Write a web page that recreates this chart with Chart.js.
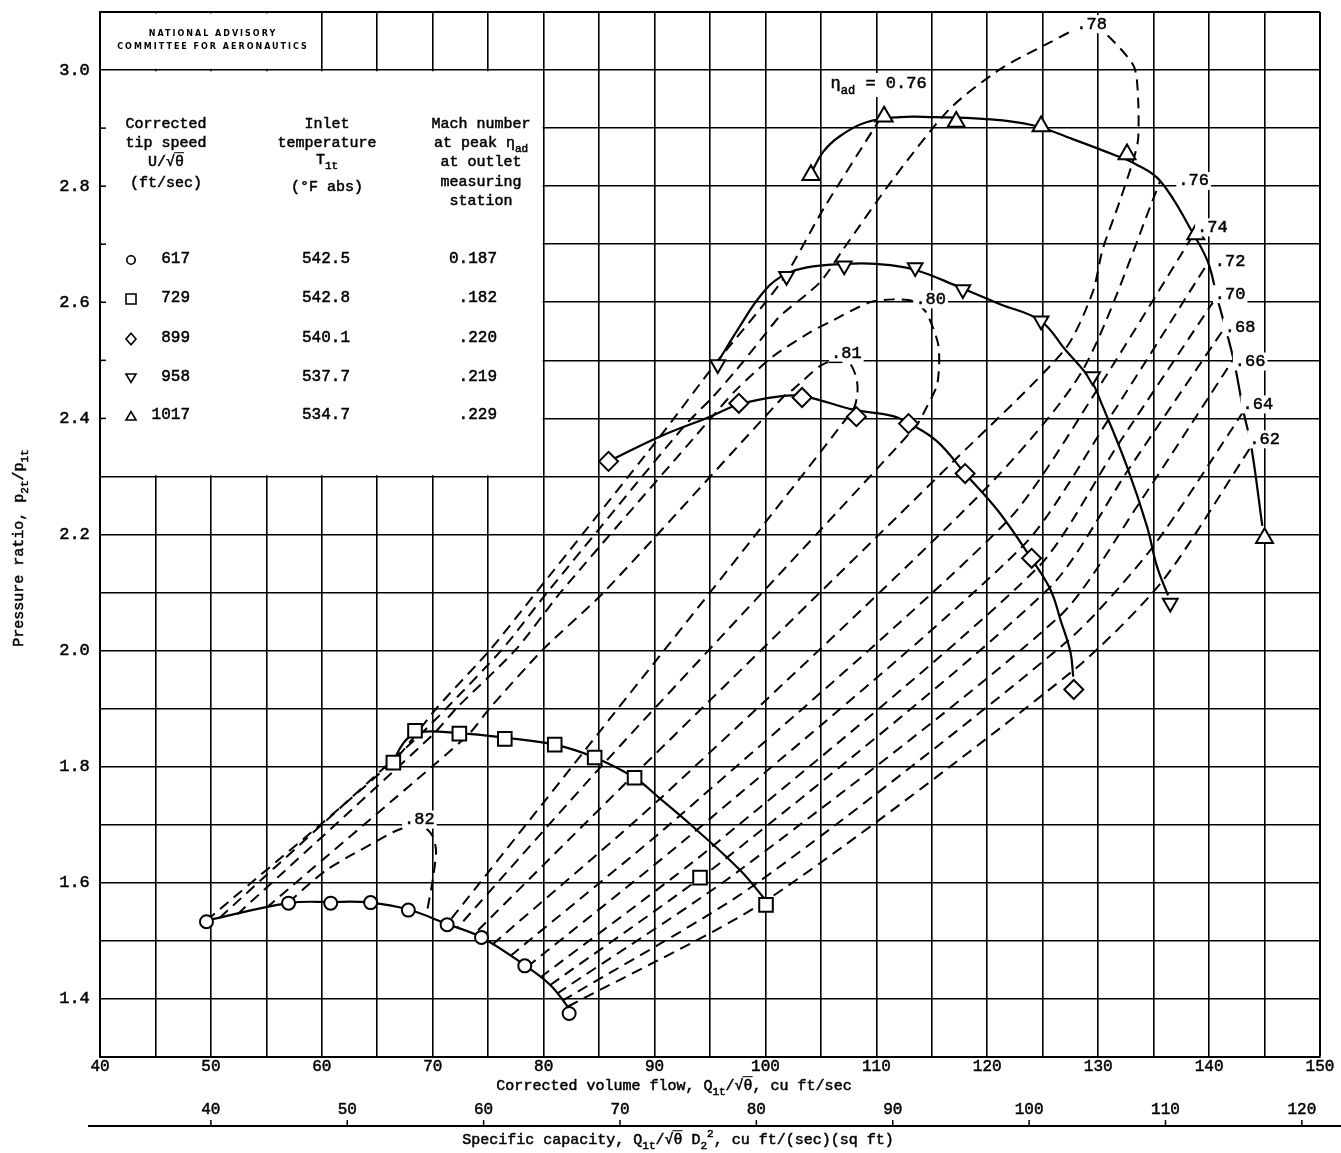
<!DOCTYPE html>
<html>
<head>
<meta charset="utf-8">
<script src="https://cdn.jsdelivr.net/npm/chart.js@4/dist/chart.umd.min.js"></script>
<style>
  html, body { margin: 0; padding: 0; background: #fff; }
  #wrap { width: 1341px; height: 1153px; }
</style>
</head>
<body>
<div id="wrap"><canvas id="c" width="1341" height="1153"></canvas></div>
<script>
// ---- Compressor test points: [corrected volume flow Q1t/sqrt(theta), pressure ratio p2t/p1t] ----
const tipSpeeds   = ['617', '729', '899', '958', '1017'];
const inletTemps  = ['542.5', '542.8', '540.1', '537.7', '534.7'];
const machNumbers = ['0.187', '.182', '.220', '.219', '.229'];

const points617  = [[49.6,1.533],[57.0,1.565],[60.8,1.565],[64.4,1.566],[67.8,1.553],[71.3,1.528],[74.4,1.506],[78.3,1.457],[82.3,1.375]];
const points729  = [[66.45,1.807],[68.4,1.862],[72.4,1.857],[76.5,1.848],[81.0,1.838],[84.6,1.816],[88.2,1.781],[94.1,1.609],[100.05,1.562]];
const points899  = [[85.85,2.326],[97.6,2.426],[103.3,2.436],[108.2,2.403],[112.9,2.391],[118.0,2.305],[124.0,2.159],[127.8,1.933]];
const points958  = [[95.7,2.493],[101.9,2.645],[107.1,2.663],[113.5,2.660],[117.8,2.622],[124.85,2.568],[129.5,2.472],[136.5,2.082]];
const points1017 = [[104.1,2.819],[110.7,2.920],[117.2,2.911],[124.85,2.903],[132.6,2.855],[138.8,2.717],[145.0,2.194]];

// ---- Faired speed lines ----
const faired617  = [[49.6,1.535],[57.0,1.565],[60.8,1.567],[64.4,1.566],[67.8,1.554],[71.3,1.529],[74.4,1.506],[78.3,1.458],[80.6,1.424],[82.2,1.386]];
const faired729  = [[66.45,1.807],[67.0,1.830],[67.8,1.850],[68.8,1.860],[72.4,1.858],[76.5,1.850],[81.0,1.838],[84.6,1.816],[88.2,1.781],[90.5,1.745],[93.8,1.691],[97.7,1.622],[99.9,1.573]];
const faired899  = [[85.85,2.326],[90.5,2.369],[95.0,2.403],[97.6,2.424],[101.3,2.438],[103.5,2.438],[107.9,2.415],[111.5,2.404],[113.0,2.391],[115.5,2.360],[118.0,2.305],[121.0,2.240],[123.95,2.159],[125.7,2.105],[126.6,2.053],[127.5,1.997],[127.75,1.955]];
const faired958  = [[95.7,2.497],[97.7,2.559],[99.5,2.610],[101.3,2.643],[103.75,2.660],[107.0,2.666],[110.0,2.666],[113.3,2.657],[117.5,2.626],[121.1,2.597],[124.8,2.568],[127.0,2.519],[129.3,2.467],[130.4,2.421],[132.6,2.317],[134.4,2.214],[135.3,2.145],[136.3,2.095]];
const faired1017 = [[104.1,2.822],[105.2,2.859],[106.7,2.886],[109.1,2.910],[112.1,2.919],[115.1,2.919],[119.6,2.916],[124.1,2.905],[127.7,2.881],[131.7,2.852],[133.2,2.840],[135.6,2.809],[138.6,2.717],[139.9,2.669],[140.7,2.610],[142.2,2.502],[143.1,2.412],[143.8,2.352],[144.8,2.215]];

// ---- Lines of constant adiabatic efficiency ----
const eff62 = [[82.2,1.387],[100.1,1.570],[127.7,1.965],[135.8,2.120],[143.8,2.352]];
const eff64 = [[81.7,1.397],[98.9,1.595],[127.2,2.016],[134.9,2.178],[143.1,2.412]];
const eff66 = [[81.2,1.409],[97.7,1.622],[126.5,2.059],[133.7,2.254],[142.2,2.502]];
const eff68 = [[80.6,1.424],[96.5,1.643],[125.6,2.108],[132.7,2.311],[141.4,2.556]];
const eff70 = [[79.7,1.437],[95.3,1.664],[124.5,2.142],[131.8,2.355],[140.7,2.610]];
const eff72 = [[78.5,1.455],[93.8,1.691],[123.2,2.180],[130.9,2.397],[139.9,2.668]];
const eff74 = [[77.0,1.474],[92.3,1.716],[121.7,2.221],[129.8,2.446],[138.6,2.717]];
const eff76High = [[75.4,1.494],[90.5,1.745],[119.5,2.272],[128.6,2.483],[135.6,2.809]];
const eff76Low  = [[49.6,1.535],[66.45,1.810],[70.4,1.902],[75.2,2.002],[79.4,2.102],[90.5,2.369],[95.6,2.497],[101.6,2.640],[105.2,2.760],[110.4,2.918]];
const eff78 = [[50.8,1.540],[68.85,1.855],[71.3,1.902],[76.25,2.002],[80.4,2.102],[92.6,2.385],[95.3,2.438],[97.4,2.484],[100.1,2.548],[101.3,2.576],[104.9,2.634],[107.0,2.691],[111.5,2.812],[116.6,2.933],[121.2,3.002],[125.7,3.048],[128.8,3.076],[130.4,3.067],[133.2,3.007],[133.6,2.950],[133.6,2.881],[133.2,2.847],[131.8,2.766],[130.4,2.691],[129.5,2.617],[127.0,2.519],[117.0,2.327],[88.0,1.783],[73.7,1.511]];
const eff80 = [[52.4,1.546],[70.0,1.855],[72.2,1.902],[77.5,2.002],[81.6,2.102],[95.3,2.405],[97.4,2.450],[100.7,2.507],[104.0,2.548],[105.8,2.566],[109.4,2.600],[111.5,2.605],[113.3,2.602],[114.5,2.582],[115.6,2.525],[115.5,2.460],[114.5,2.418],[113.5,2.385],[85.5,1.807],[72.2,1.522]];
const eff81 = [[55.0,1.557],[70.35,1.807],[73.3,1.857],[75.2,1.902],[79.95,2.002],[85.5,2.102],[101.8,2.441],[102.5,2.450],[104.9,2.490],[106.5,2.502],[107.6,2.495],[108.2,2.470],[108.3,2.445],[107.9,2.415],[83.5,1.823],[71.3,1.529]];
const eff82 = [[57.0,1.566],[58.5,1.592],[60.4,1.622],[62.4,1.645],[64.6,1.668],[66.5,1.688],[68.0,1.698],[69.2,1.697],[70.0,1.680],[70.3,1.655],[70.0,1.605],[69.5,1.552]];

// ---- Axis ranges and ticks ----
const flowRange     = [40, 150];
const ratioRange    = [1.3, 3.1];
const capacityRange = [31.87, 121.33];
const flowLabels     = [40, 50, 60, 70, 80, 90, 100, 110, 120, 130, 140, 150];
const ratioLabels    = [1.4, 1.6, 1.8, 2.0, 2.2, 2.4, 2.6, 2.8, 3.0];
const capacityLabels = [40, 50, 60, 70, 80, 90, 100, 110, 120];

// ---- Efficiency labels: [text, flow, ratio] ----
const effLabels = [
  ['.78', 129.4, 3.079], ['.80', 114.9, 2.605], ['.81', 107.3, 2.512], ['.82', 68.8, 1.709],
  ['.76', 138.6, 2.809], ['.74', 140.3, 2.729], ['.72', 141.9, 2.671], ['.70', 141.9, 2.614],
  ['.68', 142.8, 2.557], ['.66', 143.7, 2.498], ['.64', 144.4, 2.424], ['.62', 145.0, 2.364]
];

const MONO = "'Liberation Mono', 'DejaVu Sans Mono', monospace";
const INK = '#000';

const xy = arr => arr.map(([x, y]) => ({ x, y }));

function effLine(data) {
  return { data: xy(data), showLine: true, pointRadius: 0, borderColor: INK, borderWidth: 2,
           borderDash: [11, 7], tension: 0.25, fill: false, order: 3 };
}
function fairLine(data) {
  return { data: xy(data), showLine: true, pointRadius: 0, borderColor: INK, borderWidth: 2.2,
           tension: 0.4, fill: false, order: 2 };
}
function marks(data, style, r, rot) {
  return { data: xy(data), showLine: false, pointStyle: style, pointRadius: r, pointRotation: rot || 0,
           pointBackgroundColor: '#fff', pointBorderColor: INK, pointBorderWidth: 2, order: 1 };
}

// rich text: segments [text, kind] where kind is '', 'sub', 'sup' or 'over'
function richWidth(ctx, segs, size) {
  let w = 0;
  for (const [t, k] of segs) {
    const s = (k === 'sub' || k === 'sup') ? Math.round(size * 0.72) : size;
    ctx.font = s + 'px ' + MONO;
    w += ctx.measureText(t).width;
  }
  return w;
}
function drawRich(ctx, segs, x, y, size, align) {
  const w = richWidth(ctx, segs, size);
  let cx = align === 'center' ? x - w / 2 : align === 'right' ? x - w : x;
  ctx.textBaseline = 'middle';
  ctx.textAlign = 'left';
  for (const [t, k] of segs) {
    const s = (k === 'sub' || k === 'sup') ? Math.round(size * 0.72) : size;
    ctx.font = s + 'px ' + MONO;
    const tw = ctx.measureText(t).width;
    const dy = k === 'sub' ? size * 0.38 : k === 'sup' ? -size * 0.42 : 0;
    ctx.lineWidth = 0.5;
    ctx.fillText(t, cx, y + dy);
    ctx.strokeText(t, cx, y + dy);
    if (k === 'over') {
      ctx.lineWidth = 1;
      ctx.beginPath();
      ctx.moveTo(cx - 1, y - size * 0.62);
      ctx.lineTo(cx + tw, y - size * 0.62);
      ctx.stroke();
    }
    cx += tw;
  }
}

function drawMark(ctx, style, x, y, r) {
  ctx.beginPath();
  if (style === 'circle') {
    ctx.arc(x, y, r, 0, Math.PI * 2);
  } else if (style === 'rect') {
    ctx.rect(x - r, y - r, 2 * r, 2 * r);
  } else if (style === 'diamond') {
    ctx.moveTo(x, y - r * 1.15); ctx.lineTo(x + r, y); ctx.lineTo(x, y + r * 1.15); ctx.lineTo(x - r, y); ctx.closePath();
  } else if (style === 'down') {
    ctx.moveTo(x - r, y - r * 0.8); ctx.lineTo(x + r, y - r * 0.8); ctx.lineTo(x, y + r * 0.9); ctx.closePath();
  } else {
    ctx.moveTo(x - r, y + r * 0.8); ctx.lineTo(x + r, y + r * 0.8); ctx.lineTo(x, y - r * 0.9); ctx.closePath();
  }
  ctx.fillStyle = '#fff'; ctx.fill();
  ctx.strokeStyle = INK; ctx.lineWidth = 1.6; ctx.stroke();
}

const legendMarks = ['circle', 'rect', 'diamond', 'down', 'up'];

const paperPlugin = {
  id: 'paper',
  beforeDatasetsDraw(chart) {
    const { ctx, scales: { x, y } } = chart;
    const L = x.getPixelForValue(40), R = x.getPixelForValue(80), R2 = x.getPixelForValue(60);
    const T = y.getPixelForValue(3.0), B = y.getPixelForValue(2.3), TT = y.getPixelForValue(3.1);
    ctx.save();
    ctx.fillStyle = '#fff';
    ctx.fillRect(L + 1.5, T + 1.2, R - L - 2.5, B - T - 2.4);
    ctx.fillRect(L + 1.5, TT + 1.5, R2 - L - 2.5, T - TT - 2.7);
    ctx.strokeStyle = INK; ctx.lineWidth = 1.5;
    for (let i = 24; i <= 29; i++) {
      const yy = y.getPixelForValue(i / 10);
      ctx.beginPath(); ctx.moveTo(L, yy); ctx.lineTo(L + 6, yy); ctx.stroke();
    }
    ctx.restore();
  },
  afterDatasetsDraw(chart) {
    const { ctx, scales: { x, y } } = chart;
    ctx.save();
    ctx.fillStyle = INK; ctx.strokeStyle = INK;
    const size = 17;
    for (const [t, q, p] of effLabels) {
      const px = x.getPixelForValue(q), py = y.getPixelForValue(p);
      ctx.font = size + 'px ' + MONO;
      const w = ctx.measureText(t).width;
      ctx.fillStyle = '#fff';
      ctx.fillRect(px - w / 2 - 2, py - 9, w + 4, 18);
      ctx.fillStyle = INK;
      drawRich(ctx, [[t, '']], px, py, size, 'center');
    }
    // underline of .81
    {
      const px = x.getPixelForValue(107.3), py = y.getPixelForValue(2.512);
      ctx.lineWidth = 1.5; ctx.beginPath(); ctx.moveTo(px - 18, py + 9); ctx.lineTo(px - 4, py + 9); ctx.stroke();
    }
    // eta_ad = 0.76 label
    {
      const segs = [['\u03b7', ''], ['ad', 'sub'], [' = 0.76', '']];
      const px = x.getPixelForValue(110.2), py = y.getPixelForValue(2.976);
      const w = richWidth(ctx, segs, 17);
      ctx.fillStyle = '#fff'; ctx.fillRect(px - w / 2 - 3, py - 11, w + 6, 24);
      ctx.fillStyle = INK; drawRich(ctx, segs, px, py, 17, 'center');
    }
    ctx.restore();
  },
  afterDraw(chart) {
    const { ctx, scales: { x2 } } = chart;
    ctx.save();
    ctx.fillStyle = INK; ctx.strokeStyle = INK;

    // committee stamp
    ctx.font = 'bold 8px "DejaVu Sans", sans-serif';
    ctx.textAlign = 'center'; ctx.textBaseline = 'middle';
    try { ctx.letterSpacing = '2px'; } catch (e) {}
    ctx.fillText('NATIONAL ADVISORY', 213, 34);
    ctx.fillText('COMMITTEE FOR AERONAUTICS', 213, 47);
    try { ctx.letterSpacing = '0px'; } catch (e) {}

    // key table
    const fs = 15;
    const head1 = [[['Corrected', '']], [['tip speed', '']], [['U/\u221a', ''], ['\u03b8', 'over']], [['(ft/sec)', '']]];
    const head2 = [[['Inlet', '']], [['temperature', '']], [['T', ''], ['1t', 'sub']], [['(\u00b0F abs)', '']]];
    const head3 = [[['Mach number', '']], [['at peak \u03b7', ''], ['ad', 'sub']], [['at outlet', '']], [['measuring', '']], [['station', '']]];
    const h1y = [124, 143, 162, 183], h2y = [124, 143, 160, 187], h3y = [124, 143, 162, 182, 201];
    head1.forEach((s, i) => drawRich(ctx, s, 166, h1y[i], fs, 'center'));
    head2.forEach((s, i) => drawRich(ctx, s, 327, h2y[i], fs, 'center'));
    head3.forEach((s, i) => drawRich(ctx, s, 481, h3y[i], fs, 'center'));
    const rowY = [259, 298, 338, 377, 415];
    for (let i = 0; i < tipSpeeds.length; i++) {
      ctx.fillStyle = INK; ctx.strokeStyle = INK;
      drawRich(ctx, [[tipSpeeds[i], '']], 190, rowY[i], 16, 'right');
      drawRich(ctx, [[inletTemps[i], '']], 326, rowY[i], 16, 'center');
      drawRich(ctx, [[machNumbers[i], '']], 497, rowY[i], 16, 'right');
      const st = legendMarks[i];
      drawMark(ctx, st, 131, rowY[i] + 1, st === 'circle' ? 4.2 : 5);
    }

    // axis titles
    ctx.fillStyle = INK; ctx.strokeStyle = INK;
    drawRich(ctx, [['Corrected volume flow, Q', ''], ['1t', 'sub'], ['/\u221a', ''], ['\u03b8', 'over'], [', cu ft/sec', '']],
             674, 1086, 15, 'center');
    drawRich(ctx, [['Specific capacity, Q', ''], ['1t', 'sub'], ['/\u221a', ''], ['\u03b8', 'over'], [' D', ''], ['2', 'sub'], ['2', 'sup'], [', cu ft/(sec)(sq ft)', '']],
             678, 1140, 15, 'center');
    ctx.save();
    ctx.translate(19, 548);
    ctx.rotate(-Math.PI / 2);
    drawRich(ctx, [['Pressure ratio, p', ''], ['2t', 'sub'], ['/p', ''], ['1t', 'sub']], 0, 0, 15, 'center');
    ctx.restore();

    // specific-capacity scale line with ticks
    const ly = 1126;
    ctx.lineWidth = 2;
    ctx.beginPath(); ctx.moveTo(88, ly); ctx.lineTo(1341, ly); ctx.stroke();
    ctx.lineWidth = 1.5;
    for (const v of capacityLabels) {
      const px = x2.getPixelForValue(v);
      ctx.beginPath(); ctx.moveTo(px, ly); ctx.lineTo(px, ly - 6); ctx.stroke();
    }
    ctx.restore();
  }
};

const gridWidth = c => (c.tick && (Math.abs(c.tick.value - flowRange[1]) < 1e-6 || Math.abs(c.tick.value - ratioRange[1]) < 1e-6)) ? 2 : 1.6;

new Chart(document.getElementById('c'), {
  type: 'scatter',
  data: {
    datasets: [
      marks(points617, 'circle', 6.5),
      marks(points729, 'rect', 9.6),
      marks(points899, 'rectRot', 9.5),
      marks(points958, 'triangle', 8.5, 180),
      marks(points1017, 'triangle', 9.8),
      fairLine(faired617), fairLine(faired729), fairLine(faired899), fairLine(faired958), fairLine(faired1017),
      effLine(eff62), effLine(eff64), effLine(eff66), effLine(eff68), effLine(eff70), effLine(eff72),
      effLine(eff74), effLine(eff76High), effLine(eff76Low), effLine(eff78), effLine(eff80), effLine(eff81), effLine(eff82)
    ]
  },
  options: {
    responsive: false,
    animation: false,
    events: [],
    layout: { padding: { left: 0, right: 21, top: 12, bottom: 0 } },
    plugins: { legend: { display: false }, tooltip: { enabled: false } },
    scales: {
      x: {
        type: 'linear', position: 'bottom', weight: 0,
        min: flowRange[0], max: flowRange[1],
        grid: { color: INK, lineWidth: gridWidth, drawTicks: false },
        border: { display: true, color: INK, width: 2 },
        ticks: {
          stepSize: 5, autoSkip: false, maxRotation: 0, padding: 0, color: INK,
          textStrokeColor: INK, textStrokeWidth: 0.5,
          font: { family: MONO, size: 16 },
          callback: v => flowLabels.includes(Math.round(v * 100) / 100) ? String(Math.round(v)) : ''
        },
        afterFit: s => { s.height = 40; }
      },
      x2: {
        type: 'linear', position: 'bottom', weight: 1,
        min: capacityRange[0], max: capacityRange[1],
        grid: { display: false, drawTicks: false },
        border: { display: false },
        ticks: {
          stepSize: 10, includeBounds: false, autoSkip: false, maxRotation: 0, padding: 3, color: INK,
          textStrokeColor: INK, textStrokeWidth: 0.5,
          font: { family: MONO, size: 16 },
          callback: v => capacityLabels.includes(Math.round(v)) && Math.abs(v - Math.round(v)) < 1e-6 ? String(Math.round(v)) : ''
        },
        afterFit: s => { s.height = 56; }
      },
      y: {
        type: 'linear', position: 'left',
        min: ratioRange[0], max: ratioRange[1],
        grid: { color: INK, lineWidth: gridWidth, drawTicks: false },
        border: { display: true, color: INK, width: 2 },
        ticks: {
          stepSize: 0.1, autoSkip: false, padding: 0, color: INK,
          textStrokeColor: INK, textStrokeWidth: 0.5,
          font: { family: MONO, size: 17 },
          callback: v => {
            const r = Math.round(v * 10) / 10;
            return ratioLabels.some(t => Math.abs(t - r) < 1e-6) ? r.toFixed(1) + ' ' : '';
          }
        },
        afterFit: s => { s.width = 100; }
      }
    }
  },
  plugins: [paperPlugin]
});
</script>
</body>
</html>
